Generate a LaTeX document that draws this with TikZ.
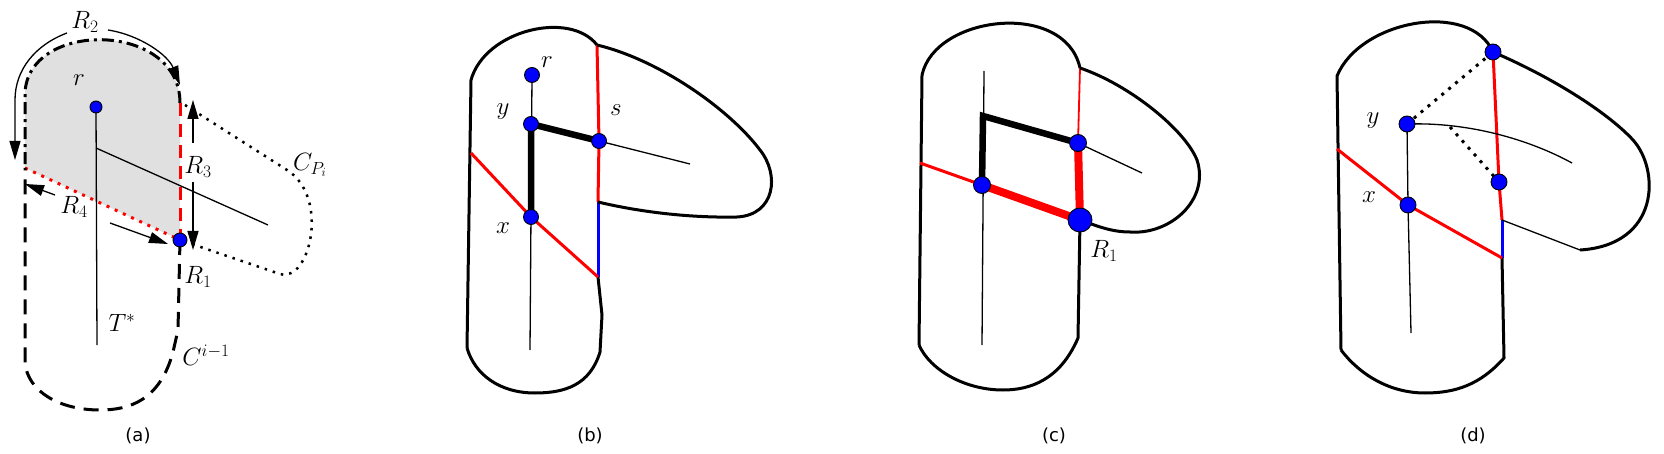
\RequirePackage{fix-cm}
\documentclass[tikz,border=0pt]{standalone}
\usepackage{fontspec}
\newfontfamily\capfont{DejaVu Sans}
\usetikzlibrary{arrows.meta}
\begin{document}
\begin{tikzpicture}[x=1pt,y=-1pt,
  bnd/.style={line width=3pt,line join=round},
  fine/.style={line width=1.3pt},
  redl/.style={red,line width=3pt},
  dotp/.style={circle,draw=black,fill=blue,inner sep=0pt,minimum size=15pt,line width=0.9pt},
  lab/.style={font=\fontsize{25}{29}\selectfont,inner sep=0pt},
  captxt/.style={font=\capfont\fontsize{18}{22}\selectfont,inner sep=0pt},
  arr/.style={line width=1.3pt,-{Triangle[length=19pt,width=11pt]}},
  dotline/.style={line width=3pt,dash pattern=on 3pt off 6pt},
]
\useasboundingbox (0,0) rectangle (1664,454);

% ================= (a) =================
\coordinate (aTR) at (180,103);
\coordinate (aTL) at (25,95);
\coordinate (aML) at (25,168);
\coordinate (aR1) at (180,240);
\coordinate (ar) at (96,107);
\coordinate (aJ) at (96,148);
\coordinate (aTb) at (97,345);
\coordinate (aTe) at (268,225);
\coordinate (aCP) at (185,105);
\fill[black!12] (aTL) .. controls (25,20) and (180,20) .. (aTR) -- (aR1) -- (aML) -- cycle;
\draw[bnd,dash pattern=on 12pt off 5pt on 3pt off 5pt] (aTR) .. controls (180,20) and (25,20) .. (aTL) -- (aML);
\draw[bnd,red,dash pattern=on 13pt off 8pt] (aTR) -- (aR1);
\draw[red,dotline] (aML) -- (aR1);
\draw[bnd,dash pattern=on 15pt off 9pt] (aR1) -- (178,330) -- (173,352) .. controls (160,400) and (130,410) .. (100,410) .. controls (60,410) and (28,392) .. (25,363) -- (aML);
\draw[fine] (ar) -- (aTb);
\draw[fine] (aJ) -- (aTe);
\draw[line width=2.5pt,dash pattern=on 2.5pt off 6pt] (aCP) -- (287,170) .. controls (330,197) and (310,283) .. (280,274) -- (aR1);
% arrows
\coordinate (a2s) at (67,33); \coordinate (a2e) at (15,160);
\coordinate (a2t) at (108,30); \coordinate (a2f) at (180,85);
\draw[arr] (a2s) .. controls (35,45) and (15,70) .. (15,100) -- (a2e);
\draw[arr] (a2t) .. controls (140,35) and (168,55) .. (a2f);
\coordinate (a3a) at (193,143); \coordinate (a3b) at (193,100);
\coordinate (a3c) at (193,182); \coordinate (a3d) at (193,250);
\draw[arr] (a3a) -- (a3b);
\draw[arr] (a3c) -- (a3d);
\coordinate (a4a) at (55,195); \coordinate (a4b) at (25,184);
\coordinate (a4c) at (110,223); \coordinate (a4d) at (168,244);
\draw[arr] (a4a) -- (a4b);
\draw[arr] (a4c) -- (a4d);
\node[dotp,minimum size=12pt] (ran) at (ar) {};
\node[dotp,minimum size=14pt] (aR1n) at (aR1) {};
\node[lab] (lR2) at (85,22) {$R_2$};
\node[lab] (lr) at (79,80) {$r$};
\node[lab] (lR3) at (198,167) {$R_3$};
\node[lab] (lCP) at (310,165) {$C_{P_i}$};
\node[lab] (lR4) at (74,207) {$R_4$};
\node[lab] (lR1) at (198,277) {$R_1$};
\node[lab] (lT) at (122,323) {$T^{*}$};
\node[lab] (lC) at (206,355) {$C^{i-1}$};
\node[captxt] (capa) at (138,436) {(a)};

% ================= (b) =================
\coordinate (bTL) at (471,80);
\coordinate (bBL) at (467,348);
\coordinate (bJ) at (597,45);
\coordinate (bRB) at (598,202);
\coordinate (bBR) at (598,277);
\coordinate (bBB) at (600,352);
\coordinate (bDL) at (471,153);
\coordinate (br) at (532,75);
\coordinate (by) at (531,124);
\coordinate (bs) at (599,141);
\coordinate (bx) at (531,217);
\coordinate (bTb) at (530,350);
\coordinate (bE) at (690,164);
\draw[bnd] (bBL) -- (bTL) .. controls (485,30) and (570,10) .. (bJ);
\draw[redl] (bJ) -- (bs) -- (bRB);
\draw[blue,line width=3pt] (bRB) -- (bBR);
\draw[bnd] (bBR) -- (602,315) -- (bBB) .. controls (590,385) and (565,393) .. (535,393) .. controls (500,393) and (475,375) .. (bBL);
\draw[bnd] (bJ) .. controls (660,60) and (730,110) .. (760,150) .. controls (780,175) and (775,215) .. (737,217) .. controls (690,218) and (640,212) .. (bRB);
\draw[redl] (bDL) -- (bx) -- (bBR);
\draw[fine] (br) -- (bTb);
\draw[fine] (bs) -- (bE);
\draw[line width=6.5pt] (bx) -- (by) -- (bs);
\node[dotp] (brn) at (br) {};
\node[dotp] (byn) at (by) {};
\node[dotp] (bsn) at (bs) {};
\node[dotp] (bxn) at (bx) {};
\node[lab] at (547,62) {$r$};
\node[lab] at (503,112) {$y$};
\node[lab] at (616,110) {$s$};
\node[lab] at (503,228) {$x$};
\node[captxt] (capb) at (590,436) {(b)};

% ================= (c) =================
\coordinate (cTL) at (922,75);
\coordinate (cBL) at (919,345);
\coordinate (cJ) at (1080,68);
\coordinate (cBR) at (1078,338);
\coordinate (cDL) at (920,163);
\coordinate (cTop) at (984,71);
\coordinate (cBot) at (982,345);
\coordinate (cK) at (983,116);
\coordinate (cE) at (1142,173);
\coordinate (cs) at (1078,143);
\coordinate (cx) at (982,185);
\coordinate (cR) at (1080,220);
\draw[bnd] (cBL) -- (cTL) .. controls (935,15) and (1065,0) .. (cJ);
\draw[red,line width=1.8pt] (cJ) -- (cs);
\draw[red,line width=8pt] (cs) -- (cR);
\draw[bnd] (cR) -- (cBR) .. controls (1060,380) and (1030,390) .. (1003,390) .. controls (965,390) and (930,370) .. (cBL);
\draw[bnd] (cJ) .. controls (1130,85) and (1185,130) .. (1197,160) .. controls (1210,200) and (1170,235) .. (1130,232) .. controls (1110,232) and (1095,225) .. (cR);
\draw[redl] (cDL) -- (cx);
\draw[red,line width=8pt] (cx) -- (cR);
\draw[fine] (cTop) -- (cBot);
\draw[line width=6.5pt] (cx) -- (cK) -- (cs);
\draw[fine] (cs) -- (cE);
\node[dotp,minimum size=17pt] (csn) at (cs) {};
\node[dotp,minimum size=17pt] (cxn) at (cx) {};
\node[dotp,minimum size=24pt] (cRn) at (cR) {};
\node[lab] at (1104,251) {$R_1$};
\node[captxt] (capc) at (1054,436) {(c)};

% ================= (d) =================
\coordinate (dTL) at (1337,76);
\coordinate (dBL) at (1341,350);
\coordinate (dRB) at (1502,220);
\coordinate (dBB) at (1502,258);
\coordinate (dBR) at (1504,358);
\coordinate (dDL) at (1337,149);
\coordinate (dLB) at (1580,250);
\coordinate (dE) at (1572,163);
\coordinate (dBot) at (1411,333);
\coordinate (dQ) at (1450,127);
\coordinate (dT) at (1493,52);
\coordinate (dM) at (1499,182);
\coordinate (dy) at (1407,124);
\coordinate (dx) at (1408,205);
\draw[bnd] (dBL) -- (dTL) .. controls (1360,20) and (1470,0) .. (dT);
\draw[redl] (dT) -- (dM) -- (dRB);
\draw[blue,line width=3pt] (dRB) -- (dBB);
\draw[bnd] (dBB) -- (dBR) .. controls (1480,385) and (1455,393) .. (1425,393) .. controls (1390,393) and (1360,375) .. (dBL);
\draw[bnd] (dT) .. controls (1558,80) and (1610,115) .. (1633,140) .. controls (1660,170) and (1660,245) .. (dLB);
\draw[fine] (dLB) -- (dRB);
\draw[redl] (dDL) -- (dx) -- (dBB);
\draw[fine] (dy) -- (dx) -- (dBot);
\draw[fine] (dy) .. controls (1470,122) and (1530,140) .. (dE);
\draw[dotline] (dy) -- (dT);
\draw[dotline] (dQ) -- (dM);
\node[dotp,minimum size=16pt] (dTn) at (dT) {};
\node[dotp,minimum size=16pt] (dMn) at (dM) {};
\node[dotp,minimum size=16pt] (dyn) at (dy) {};
\node[dotp,minimum size=16pt] (dxn) at (dx) {};
\node[lab] at (1373,121) {$y$};
\node[lab] at (1369,197) {$x$};
\node[captxt] (capd) at (1473,436) {(d)};
\end{tikzpicture}
\end{document}
